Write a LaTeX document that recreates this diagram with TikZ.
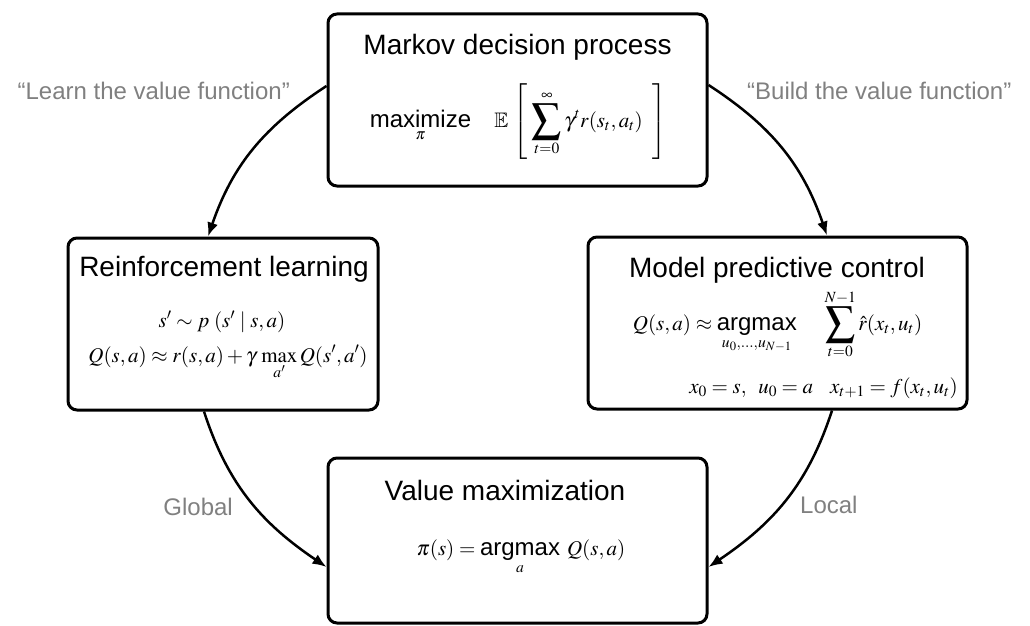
\documentclass[tikz,border=0pt]{standalone}
\usepackage{amsmath}
\usepackage{amsfonts}
\usepackage{graphicx}
\usepackage{mathptmx}
\usepackage[no-math]{fontspec}
\setmainfont{Liberation Sans}
\usetikzlibrary{arrows.meta}
\newcommand{\sop}[1]{\mathop{\text{\fontsize{24}{28}\selectfont #1}}}
\newcommand{\bsum}{\mathop{\vcenter{\hbox{\scalebox{1.4}{$\displaystyle\sum$}}}}\limits}
\begin{document}
\begin{tikzpicture}[x=1pt,y=-1pt,
  box/.style={draw, line width=3pt, rounded corners=9pt, inner sep=0pt},
  ttl/.style={font=\fontsize{28}{32}\selectfont, inner sep=0pt, anchor=base},
  eq/.style={font=\fontsize{21}{25}\selectfont, inner sep=0pt, anchor=base},
  lbl/.style={font=\fontsize{24}{28}\selectfont, text=black!50, inner sep=0pt},
  conn/.style={line width=2.5pt, -{Latex[length=14pt,width=11pt]}}]
\useasboundingbox (0,0) rectangle (1030,626);

% boxes
\node[box, minimum width=379pt, minimum height=172pt] (mdp) at (517.5,100) {};
\node[box, minimum width=310pt, minimum height=172pt] (rl) at (223,324) {};
\node[box, minimum width=379pt, minimum height=172pt] (mpc) at (777.5,323) {};
\node[box, minimum width=379pt, minimum height=165pt] (vm) at (517.5,540.5) {};

% MDP
\node[ttl] (mdpt) at (517.5,55) {Markov decision process};
\node[eq] (mdpf) at (518,127) {$\displaystyle \sop{maximize}_{\pi}\quad \mathbb{E}\,\left[\;\bsum_{t=0}^{\infty}\gamma^t r(s_t,a_t)\;\;\right]$};

% RL
\node[ttl] (rlt) at (224,276) {Reinforcement learning};
\node[eq] (rl1) at (222,327) {$s'\sim p\,\left(s'\mid s,a\right)$};
\node[eq] (rl2) at (228,362) {$\displaystyle Q(s,a)\approx r(s,a)+\gamma\,\max_{a'}Q(s',a')$};

% MPC
\node[ttl] (mpct) at (777,277) {Model predictive control};
\node[eq] (mpc1) at (777.5,330) {$\displaystyle Q(s,a)\approx \sop{argmax}_{u_0,\dots,u_{N-1}}\quad\;\bsum_{t=0}^{N-1}\hat r(x_t,u_t)$};
\node[eq, anchor=base east] (mpc2) at (958,393) {$x_0=s,\;\;u_0=a\hspace{17pt} x_{t+1}=f(x_t,u_t)$};

% VM
\node[ttl] (vmt) at (505,500) {Value maximization};
\node[eq] (vmf) at (521,555) {$\displaystyle \pi(s)=\sop{argmax}_{a}\;Q(s,a)$};

% labels
\node[lbl, anchor=base east] (l1) at (290,99) {“Learn the value function”};
\node[lbl, anchor=base west] (l2) at (747,99) {“Build the value function”};
\node[lbl, anchor=base east] (l3) at (233,515) {Global};
\node[lbl, anchor=base west] (l4) at (800,513) {Local};

% connectors
\draw[conn] ([yshift=14pt]mdp.west) to[out=213,in=71] ([xshift=-15pt]rl.north);
\draw[conn] ([yshift=15pt]mdp.east) to[out=327,in=109] ([xshift=49.5pt]mpc.north);
\draw[conn] ([xshift=-19pt]rl.south) to[out=288,in=146] ([yshift=-26.5pt]vm.west);
\draw[conn] ([xshift=54.5pt]mpc.south) to[out=252,in=34] ([yshift=-26.5pt]vm.east);
\end{tikzpicture}
\end{document}
